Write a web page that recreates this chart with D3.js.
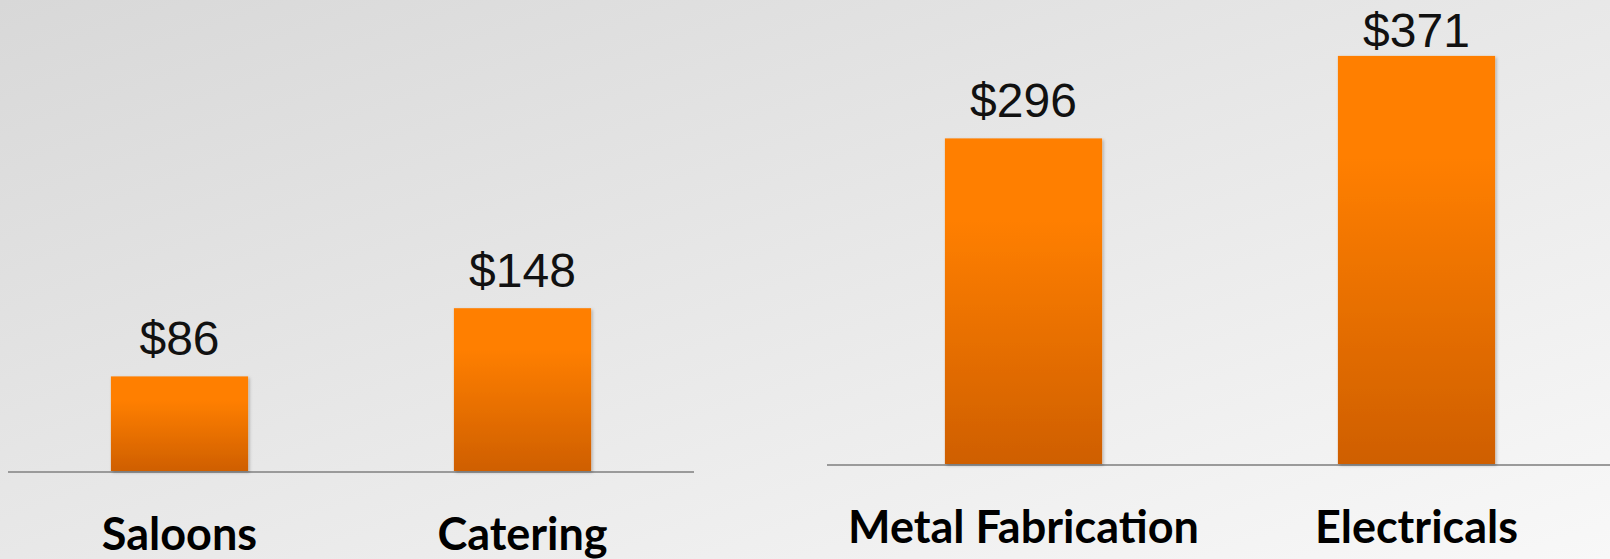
<!DOCTYPE html>
<html lang="en">
  <head>
    <meta charset="UTF-8" />
    <title>Average earnings by trade</title>
    <script src="https://d3js.org/d3.v7.min.js"></script>
    <style>
      body {
        margin: 0;
        overflow: hidden;
      }
      .value-label {
        font-family: "Liberation Sans Narrow", "Liberation Sans", sans-serif;
        font-size: 48px;
        fill: #111;
        text-anchor: middle;
      }
      .cat-label {
        font-family: Lato, "Open Sans", sans-serif;
        font-weight: bold;
        font-size: 45px;
        fill: #000;
        text-anchor: middle;
      }
    </style>
  </head>
  <body>
    <svg id="chart" width="1610" height="559"></svg>

    <script>
      // data: two small panels of the slide
      var leftCategories = ["Saloons", "Catering"];
      var leftValues = [86, 148];
      var rightCategories = ["Metal Fabrication", "Electricals"];
      var rightValues = [296, 371];

      var svg = d3.select("#chart");
      var W = +svg.attr("width"),
        H = +svg.attr("height");

      var defs = svg.append("defs");

      // slide background
      var bg = defs
        .append("linearGradient")
        .attr("id", "bg")
        .attr("x1", "0%")
        .attr("y1", "0%")
        .attr("x2", "100%")
        .attr("y2", "100%");
      bg.append("stop").attr("offset", "0%").attr("stop-color", "#d8d8d8");
      bg.append("stop").attr("offset", "100%").attr("stop-color", "#f8f8f8");

      // bar fill
      var barGrad = defs
        .append("linearGradient")
        .attr("id", "barFill")
        .attr("x1", "0")
        .attr("y1", "0")
        .attr("x2", "0")
        .attr("y2", "1");
      barGrad.append("stop").attr("offset", "0%").attr("stop-color", "#ff7f00");
      barGrad.append("stop").attr("offset", "25%").attr("stop-color", "#ff7f00");
      barGrad.append("stop").attr("offset", "100%").attr("stop-color", "#cf5f00");

      var shadow = defs
        .append("filter")
        .attr("id", "shadow")
        .attr("x", "-10%")
        .attr("y", "-10%")
        .attr("width", "130%")
        .attr("height", "130%");
      shadow
        .append("feDropShadow")
        .attr("dx", 1.5)
        .attr("dy", 1.5)
        .attr("stdDeviation", 1.5)
        .attr("flood-color", "#000")
        .attr("flood-opacity", 0.25);

      svg
        .append("rect")
        .attr("width", W)
        .attr("height", H)
        .attr("fill", "url(#bg)");

      function panel(cats, vals, x0, x1, baseY, labelY) {
        var x = d3
          .scaleBand()
          .domain(cats)
          .range([x0, x1])
          .paddingInner(0.6)
          .paddingOuter(0.3);

        var y = d3.scaleLinear().domain([0, 400]).range([baseY, baseY - 440]);

        var g = svg.append("g");

        // baseline
        g.append("line")
          .attr("x1", x0)
          .attr("x2", x1)
          .attr("y1", baseY + 1)
          .attr("y2", baseY + 1)
          .attr("stroke", "#9a9a9a")
          .attr("stroke-width", 2);

        g.selectAll(".bar")
          .data(vals)
          .enter()
          .append("rect")
          .attr("class", "bar")
          .attr("x", function (d, i) {
            return x(cats[i]);
          })
          .attr("y", function (d) {
            return y(d);
          })
          .attr("width", x.bandwidth())
          .attr("height", function (d) {
            return y(0) - y(d);
          })
          .attr("fill", "url(#barFill)")
          .attr("filter", "url(#shadow)");

        // value labels, kept inside the slide at the top
        g.selectAll(".value-label")
          .data(vals)
          .enter()
          .append("text")
          .attr("class", "value-label")
          .attr("x", function (d, i) {
            return x(cats[i]) + x.bandwidth() / 2;
          })
          .attr("y", function (d) {
            return Math.max(y(d) - 21, 47);
          })
          .text(function (d) {
            return "$" + d;
          });

        g.selectAll(".cat-label")
          .data(cats)
          .enter()
          .append("text")
          .attr("class", "cat-label")
          .attr("x", function (d) {
            return x(d) + x.bandwidth() / 2;
          })
          .attr("y", labelY)
          .text(function (d) {
            return d;
          });
      }

      panel(leftCategories, leftValues, 8, 694, 471, 550);
      panel(rightCategories, rightValues, 827, 1613, 464, 543);
    </script>
  </body>
</html>
